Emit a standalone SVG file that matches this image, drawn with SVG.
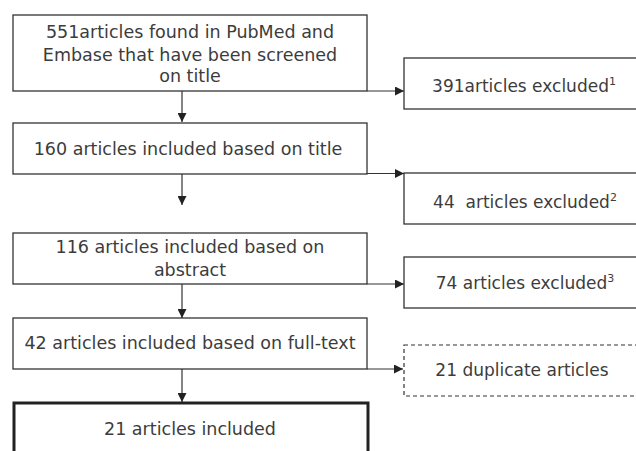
<svg xmlns="http://www.w3.org/2000/svg" width="636" height="451" viewBox="0 0 636 451">
<defs>
<style>
.box{fill:#fff;stroke:#333;stroke-width:1.3}
.dash{fill:#fff;stroke:#333;stroke-width:1.2;stroke-dasharray:4,3}
.thick{fill:#fff;stroke:#222;stroke-width:3}
.t{font-family:"DejaVu Sans","Liberation Sans",sans-serif;font-size:17.5px;fill:#3c3c3c;text-anchor:middle}
.r{font-size:17px}
.sup{font-size:11px}
.c{stroke:#333;stroke-width:1.2;fill:none}
</style>
<marker id="ah" viewBox="0 0 10 10" refX="10" refY="5" markerWidth="9" markerHeight="9" markerUnits="userSpaceOnUse" orient="auto">
<path d="M0,0 L10,5 L0,10 z" fill="#222"/>
</marker>
</defs>
<rect width="636" height="451" fill="#fff"/>
<g id="connectors">
<line class="c" x1="182" y1="91" x2="182" y2="122" marker-end="url(#ah)"/>
<line class="c" x1="367" y1="91" x2="404" y2="91" marker-end="url(#ah)"/>
<line class="c" x1="182" y1="174" x2="182" y2="205" marker-end="url(#ah)"/>
<line class="c" x1="367" y1="173.5" x2="404" y2="173.5" marker-end="url(#ah)"/>
<line class="c" x1="182" y1="284" x2="182" y2="318" marker-end="url(#ah)"/>
<line class="c" x1="367" y1="284" x2="404" y2="284" marker-end="url(#ah)"/>
<line class="c" x1="182" y1="369" x2="182" y2="402" marker-end="url(#ah)"/>
<line class="c" x1="367" y1="369" x2="403" y2="369" marker-end="url(#ah)"/>
</g>
<g id="n1">
<rect class="box" x="13" y="15" width="354" height="76"/>
<text class="t" x="190" y="38">551articles found in PubMed and</text>
<text class="t" x="190" y="61">Embase that have been screened</text>
<text class="t" x="190" y="82">on title</text>
</g>
<g id="n2">
<rect class="box" x="13" y="123" width="354" height="51"/>
<text class="t" x="188" y="154.5">160 articles included based on title</text>
</g>
<g id="n3">
<rect class="box" x="13" y="233" width="354" height="51"/>
<text class="t" x="190" y="253">116 articles included based on</text>
<text class="t" x="190" y="276">abstract</text>
</g>
<g id="n4">
<rect class="box" x="13" y="318" width="354" height="51"/>
<text class="t" x="190" y="349">42 articles included based on full-text</text>
</g>
<g id="n5">
<rect class="thick" x="14" y="403" width="354" height="60"/>
<text class="t" x="190" y="435">21 articles included</text>
</g>
<g id="e1">
<rect class="box" x="404" y="58" width="240" height="51"/>
<text class="t r" x="524" y="92">391articles excluded<tspan class="sup" dy="-7">1</tspan></text>
</g>
<g id="e2">
<rect class="box" x="404" y="173" width="240" height="51"/>
<text class="t r" x="525" y="208" xml:space="preserve">44  articles excluded<tspan class="sup" dy="-7">2</tspan></text>
</g>
<g id="e3">
<rect class="box" x="404" y="257" width="240" height="51"/>
<text class="t r" x="525" y="289">74 articles excluded<tspan class="sup" dy="-7">3</tspan></text>
</g>
<g id="e4">
<rect class="dash" x="404" y="345" width="240" height="51"/>
<text class="t r" x="522" y="376">21 duplicate articles</text>
</g>
</svg>
